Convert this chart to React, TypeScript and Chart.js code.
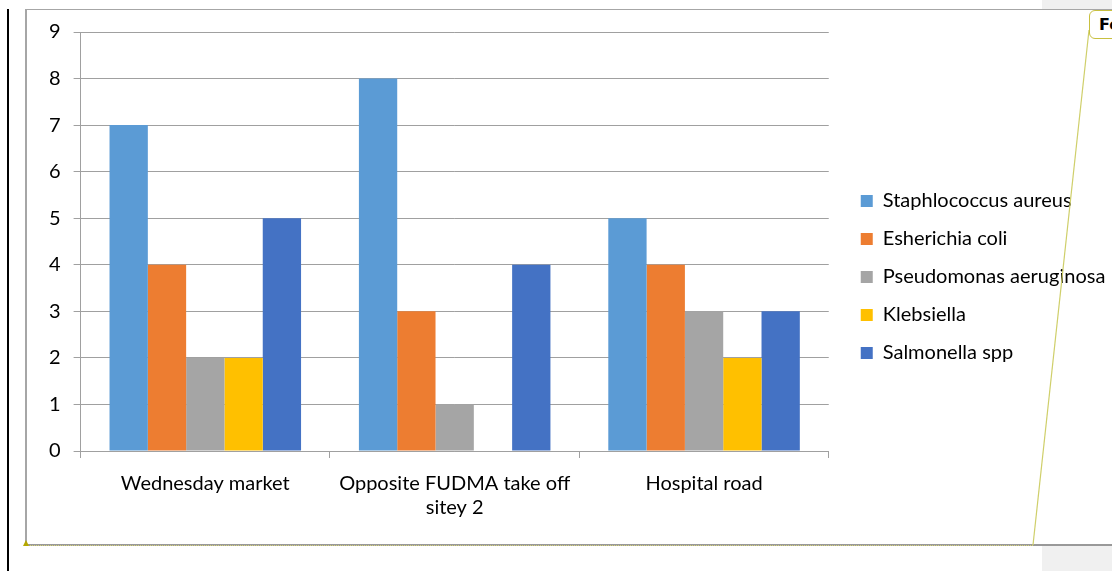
import React, { useEffect, useRef } from "react";
import { Chart, registerables } from "chart.js";

Chart.register(...registerables);

const categories: (string | string[])[] = [
  "Wednesday market",
  ["Opposite FUDMA take off", "sitey 2"],
  "Hospital road",
];
const seriesNames = [
  "Staphlococcus aureus",
  "Esherichia coli",
  "Pseudomonas aeruginosa",
  "Klebsiella",
  "Salmonella spp",
];
const staphValues = [7, 8, 5];
const ecoliValues = [4, 3, 4];
const pseudoValues = [2, 1, 3];
const klebValues = [2, 0, 2];
const salmoValues = [5, 4, 3];
const seriesColors = ["#5B9BD5", "#ED7D31", "#A5A5A5", "#FFC000", "#4472C4"];
const yTicks = [0, 1, 2, 3, 4, 5, 6, 7, 8, 9];

const FONT = "Lato, 'Open Sans', sans-serif";
const CANVAS_W = 1080;
const CANVAS_H = 537;
const LEGEND_GAP = 14;
const LEGEND_DY = 4;

export default function App() {
  const ref = useRef<HTMLCanvasElement | null>(null);

  useEffect(() => {
    document.body.style.margin = "0";
    const values = [staphValues, ecoliValues, pseudoValues, klebValues, salmoValues];
    const chart = new Chart(ref.current!, {
      type: "bar",
      data: {
        labels: categories,
        datasets: seriesNames.map((name, i) => ({
          label: name,
          data: values[i],
          backgroundColor: seriesColors[i],
          borderWidth: 0,
          categoryPercentage: 0.768,
          barPercentage: 1,
        })),
      },
      plugins: [
        {
          id: "legendShift",
          afterLayout(c: any) {
            if (c.legend) {
              c.legend.left += LEGEND_GAP;
              c.legend.right += LEGEND_GAP;
              c.legend.top += LEGEND_DY;
              c.legend.bottom += LEGEND_DY;
            }
          },
        },
      ],
      options: {
        animation: false,
        responsive: false,
        maintainAspectRatio: false,
        layout: { padding: { left: 9, top: 5, bottom: 10, right: 14 } },
        plugins: {
          legend: {
            position: "right",
            labels: {
              boxWidth: 12,
              boxHeight: 12,
              padding: 18,
              color: "#000",
              font: { family: FONT, size: 20 },
            },
          },
          tooltip: { enabled: false },
        },
        scales: {
          x: {
            grid: {
              offset: true,
              drawOnChartArea: false,
              drawTicks: true,
              tickLength: 7,
              color: "#a0a0a0",
            },
            border: { display: true, color: "#a0a0a0", width: 1 },
            ticks: {
              color: "#000",
              padding: 14,
              maxRotation: 0,
              autoSkip: false,
              font: { family: FONT, size: 20, lineHeight: 1.2 },
            },
          },
          y: {
            min: 0,
            max: 9,
            afterBuildTicks: (scale: any) => {
              scale.ticks = yTicks.map((v) => ({ value: v }));
            },
            grid: {
              color: "#a0a0a0",
              tickLength: 7,
              drawTicks: true,
            },
            border: { display: true, color: "#a0a0a0", width: 1 },
            ticks: {
              color: "#000",
              padding: 13,
              font: { family: FONT, size: 20 },
            },
          },
        },
      } as any,
    });
    return () => chart.destroy();
  }, []);

  return (
    <div
      style={{
        position: "fixed",
        left: 0,
        top: 0,
        width: 1112,
        height: 571,
        background: "#fff",
        overflow: "hidden",
      }}
    >
      <div
        style={{
          position: "absolute",
          left: 1042,
          top: 0,
          width: 70,
          height: 571,
          background: "#f0f0f0",
        }}
      />
      <div
        style={{
          position: "absolute",
          left: 7,
          top: 9,
          width: 2,
          height: 562,
          background: "#000",
        }}
      />
      <div
        style={{
          position: "absolute",
          left: 25,
          top: 9,
          width: 1100,
          height: 537,
          boxSizing: "border-box",
          borderLeft: "2px solid #a6a6a6",
          borderTop: "1px solid #a6a6a6",
          borderBottom: "2px solid #999",
          background: "#fff",
        }}
      />
      <canvas
        ref={ref}
        width={CANVAS_W}
        height={CANVAS_H}
        style={{ position: "absolute", left: 27, top: 7, width: CANVAS_W, height: CANVAS_H }}
      />
      <svg
        width={1112}
        height={571}
        style={{ position: "absolute", left: 0, top: 0, pointerEvents: "none" }}
      >
        <line x1={1089} y1={30} x2={1033} y2={545} stroke="#cfcf6a" strokeWidth={1.2} />
        <line x1={26} y1={545.5} x2={1033} y2={545.5} stroke="#d6d27a" strokeWidth={1} strokeDasharray="1 1" />
        <polygon points="23,546 29,546 26,540" fill="#b5a800" />
      </svg>
      <div
        style={{
          position: "absolute",
          left: 1089,
          top: 10,
          width: 60,
          height: 29,
          boxSizing: "border-box",
          border: "1.5px solid #c8c040",
          borderRadius: 6,
          background: "#fff",
          fontFamily: "'DejaVu Sans', sans-serif",
          fontWeight: "bold",
          fontSize: 16,
          lineHeight: "27px",
          paddingLeft: 9,
          color: "#000",
        }}
      >
        Fo
      </div>
    </div>
  );
}
